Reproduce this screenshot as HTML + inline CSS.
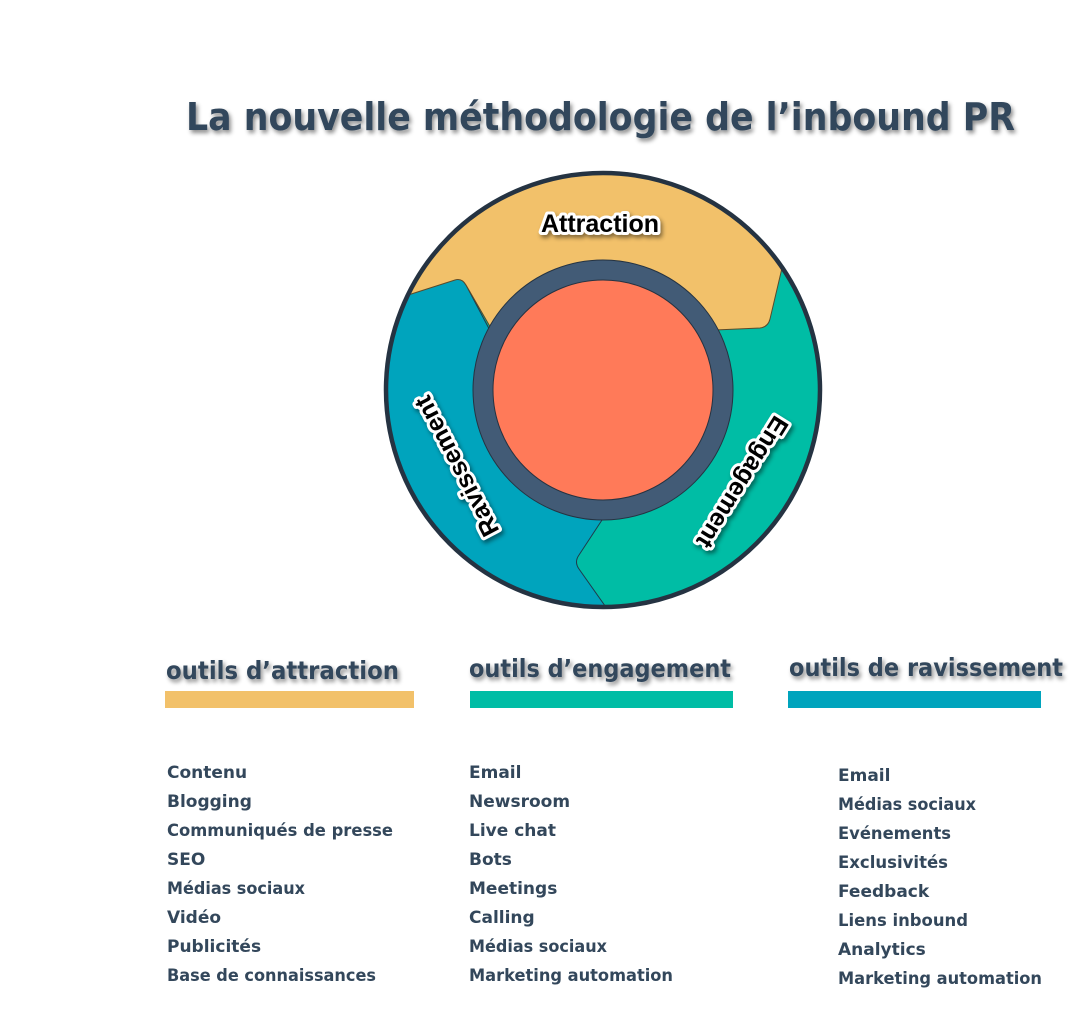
<!DOCTYPE html>
<html><head><meta charset="utf-8">
<style>
html,body{margin:0;padding:0;background:#fff;}
svg{display:block;}
text{font-family:"DejaVu Sans","Liberation Sans",sans-serif;font-weight:bold;}
</style></head>
<body>
<svg width="1075" height="1012" viewBox="0 0 1075 1012" xmlns="http://www.w3.org/2000/svg">
<defs>
<filter id="sh" x="-10%" y="-30%" width="120%" height="160%">
<feGaussianBlur in="SourceAlpha" stdDeviation="2"/>
<feOffset dx="2" dy="3" result="b"/>
<feFlood flood-color="#000" flood-opacity="0.45"/>
<feComposite in2="b" operator="in"/>
<feMerge><feMergeNode/><feMergeNode in="SourceGraphic"/></feMerge>
</filter>
<clipPath id="cc"><circle cx="603" cy="390" r="217"/></clipPath>
</defs>

<text x="186" y="130" font-size="38" fill="#33475b" textLength="829" lengthAdjust="spacingAndGlyphs" filter="url(#sh)">La nouvelle méthodologie de l’inbound PR</text>

<circle cx="603" cy="390" r="217" fill="#00bda5"/>
<g clip-path="url(#cc)">
<path d="M380,270 L455,279 Q462,278 466,285 L495,340 L602,420 L602,520 L579,555 Q574,562 579,569 L615,620 L360,640 L360,270 Z" fill="#00a4bd" stroke="#1f3a4a" stroke-width="1"/>
<path d="M405,296 L455,280 Q462,278 466,285 L492,330 L715,330 L760,328 Q768,327 770,319 L782,268 L840,150 L370,150 L370,305 Z" fill="#f2c16a" stroke="#5a4a2a" stroke-width="1"/>
</g>
<circle cx="603" cy="390" r="217" fill="none" stroke="#253342" stroke-width="4.5"/>
<circle cx="603" cy="390" r="130" fill="#425b76" stroke="#253342" stroke-width="1"/>
<circle cx="603" cy="390" r="110" fill="#ff7a59" stroke="#253342" stroke-width="1"/>

<g font-size="25" fill="#000" stroke="#fff" stroke-width="6" paint-order="stroke" stroke-linejoin="round" filter="url(#sh)">
<text x="600" y="232" text-anchor="middle" style="font-family:'Liberation Sans',sans-serif">Attraction</text>
<text transform="translate(457,466) rotate(-117.5)" text-anchor="middle" dy="8" style="font-family:'Liberation Sans',sans-serif">Ravissement</text>
<text transform="translate(742,482) rotate(122)" text-anchor="middle" dy="8" style="font-family:'Liberation Sans',sans-serif">Engagement</text>
</g>

<g font-size="25" fill="#33475b" filter="url(#sh)">
<text x="166" y="679" textLength="233" lengthAdjust="spacingAndGlyphs">outils d’attraction</text>
<text x="469" y="677" textLength="262" lengthAdjust="spacingAndGlyphs">outils d’engagement</text>
<text x="789" y="676" textLength="274" lengthAdjust="spacingAndGlyphs">outils de ravissement</text>
</g>
<rect x="165" y="691" width="249" height="17" fill="#f2c16a"/>
<rect x="470" y="691" width="263" height="17" fill="#00bda5"/>
<rect x="788" y="691" width="253" height="17" fill="#00a4bd"/>

<g font-size="17" fill="#33475b">
<text x="167" y="778">Contenu</text>
<text x="167" y="807">Blogging</text>
<text x="167" y="836" textLength="226" lengthAdjust="spacingAndGlyphs">Communiqués de presse</text>
<text x="167" y="865">SEO</text>
<text x="167" y="894" textLength="138" lengthAdjust="spacingAndGlyphs">Médias sociaux</text>
<text x="167" y="923">Vidéo</text>
<text x="167" y="952">Publicités</text>
<text x="167" y="981" textLength="209" lengthAdjust="spacingAndGlyphs">Base de connaissances</text>

<text x="469" y="778">Email</text>
<text x="469" y="807">Newsroom</text>
<text x="469" y="836">Live chat</text>
<text x="469" y="865">Bots</text>
<text x="469" y="894">Meetings</text>
<text x="469" y="923">Calling</text>
<text x="469" y="952" textLength="138" lengthAdjust="spacingAndGlyphs">Médias sociaux</text>
<text x="469" y="981" textLength="204" lengthAdjust="spacingAndGlyphs">Marketing automation</text>

<text x="838" y="781">Email</text>
<text x="838" y="810" textLength="138" lengthAdjust="spacingAndGlyphs">Médias sociaux</text>
<text x="838" y="839" textLength="113" lengthAdjust="spacingAndGlyphs">Evénements</text>
<text x="838" y="868" textLength="110" lengthAdjust="spacingAndGlyphs">Exclusivités</text>
<text x="838" y="897">Feedback</text>
<text x="838" y="926" textLength="130" lengthAdjust="spacingAndGlyphs">Liens inbound</text>
<text x="838" y="955">Analytics</text>
<text x="838" y="984" textLength="204" lengthAdjust="spacingAndGlyphs">Marketing automation</text>
</g>
</svg>
</body></html>
